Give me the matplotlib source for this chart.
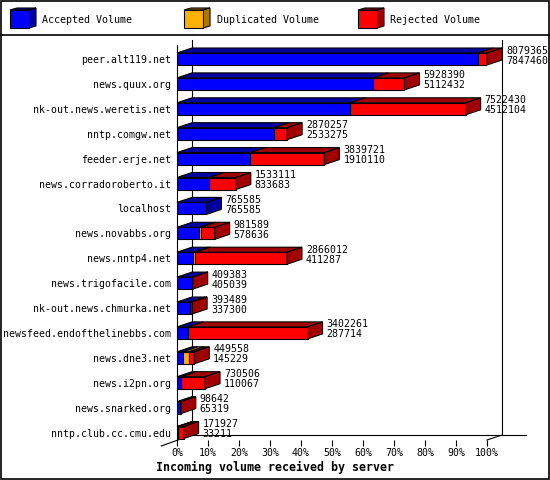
import matplotlib
matplotlib.use("Agg")
import matplotlib.pyplot as plt
from matplotlib.patches import Polygon, Rectangle
from matplotlib.lines import Line2D

servers = ["peer.alt119.net", "news.quux.org", "nk-out.news.weretis.net", "nntp.comgw.net",
           "feeder.erje.net", "news.corradoroberto.it", "localhost", "news.novabbs.org",
           "news.nntp4.net", "news.trigofacile.com", "nk-out.news.chmurka.net",
           "newsfeed.endofthelinebbs.com", "news.dne3.net", "news.i2pn.org",
           "news.snarked.org", "nntp.club.cc.cmu.edu"]
total = [8079365, 5928390, 7522430, 2870257, 3839721, 1533111, 765585, 981589,
         2866012, 409383, 393489, 3402261, 449558, 730506, 98642, 171927]
accepted = [7847460, 5112432, 4512104, 2533275, 1910110, 833683, 765585, 578636,
            411287, 405039, 337300, 287714, 145229, 110067, 65319, 33211]
duplicated = [0, 0, 0, 0, 0, 0, 0, 40000, 60000, 0, 0, 0, 170000, 0, 0, 0]
rejected = [t - a - d for t, a, d in zip(total, accepted, duplicated)]
ticks = list(range(0, 101, 10))

FRONT = {"acc": "#0000ff", "dup": "#ffb000", "rej": "#ff0000"}
DARK = {"acc": "#0000a0", "dup": "#a87800", "rej": "#a00000"}
FONT = "DejaVu Sans Mono"
plt.rcParams.update({"font.family": FONT, "font.size": 7.1})

W, H = 550, 480
fig = plt.figure(figsize=(W / 100, H / 100), dpi=100)
# plot area in pixels: x 177..487, y 45..440
ax = fig.add_axes([177 / W, 1 - 440 / H, 310 / W, 395 / H])
pitch = 24.9
ytop, ybot = (45 - 59) / pitch, (440 - 59) / pitch
ax.set_xlim(0, 100)
ax.set_ylim(ybot, ytop)
dx = 15 / 310 * 100
dy = 5 / pitch
h = 12 / pitch

# back wall and floor
kw = dict(color="black", lw=0.8, clip_on=False, zorder=1)
ax.add_line(Line2D([dx, dx], [ytop - dy, ybot - dy], **kw))
ax.add_line(Line2D([100 + dx, 100 + dx], [ytop - dy, ybot - dy], **kw))
ax.add_line(Line2D([dx, 112.6], [ybot - dy, ybot - dy], **kw))
ax.add_line(Line2D([100, 100 + dx], [ybot, ybot - dy], **kw))
ax.add_line(Line2D([-dx * 1.05, dx], [ybot + dy * 1.2, ybot - dy], **kw))

mx = max(total)
for i in range(len(servers)):
    segs = [("acc", accepted[i]), ("dup", duplicated[i]), ("rej", rejected[i])]
    segs = [(k, v / mx * 100) for k, v in segs if v > 0]
    left = 0
    top, bot = i - h / 2, i + h / 2
    for j, (k, w) in enumerate(segs):
        ax.barh(i, w, left=left, height=h, color=FRONT[k], edgecolor="black", lw=0.8, zorder=3)
        x0, x1 = left, left + w
        ax.add_patch(Polygon([(x0, top), (x1, top), (x1 + dx, top - dy), (x0 + dx, top - dy)],
                             closed=True, fc=DARK[k], ec="black", lw=0.8, zorder=3, clip_on=False))
        if j == len(segs) - 1:
            ax.add_patch(Polygon([(x1, top), (x1 + dx, top - dy), (x1 + dx, bot - dy), (x1, bot)],
                                 closed=True, fc=DARK[k], ec="black", lw=0.8, zorder=3, clip_on=False))
        left = x1
    xe = total[i] / mx * 100 + dx
    ax.annotate(str(total[i]), (xe, i), xytext=(4, 8.5), textcoords="offset pixels",
                ha="left", va="center", annotation_clip=False, zorder=5)
    ax.annotate(str(accepted[i]), (xe, i), xytext=(4, -1.5), textcoords="offset pixels",
                ha="left", va="center", annotation_clip=False, zorder=5)

ax.set_yticks(range(len(servers)))
ax.set_yticklabels(servers)
ax.tick_params(axis="y", length=0, pad=4.5)
ax.set_xticks(ticks)
ax.set_xticklabels([f"{t}%" for t in ticks])
ax.tick_params(axis="x", length=4, width=0.8, direction="out", pad=2)
for s in ("top", "right", "bottom"):
    ax.spines[s].set_visible(False)
ax.spines["left"].set_linewidth(0.8)
ax.spines["left"].set_zorder(4)
ax.patch.set_alpha(0)

# frame + legend in pixel coordinates
ov = fig.add_axes([0, 0, 1, 1], zorder=-1)
ov.set_xlim(0, W); ov.set_ylim(H, 0); ov.axis("off")
ov.add_patch(Rectangle((0.5, 0.5), W - 1.5, H - 1.5, fill=False, ec="black", lw=1.2))
ov.add_line(Line2D([0, W], [35, 35], color="black", lw=1.2))
legend = [("Accepted Volume", "acc", 10, 42), ("Duplicated Volume", "dup", 184, 217),
          ("Rejected Volume", "rej", 358, 390)]
for name, k, bx, tx in legend:
    ov.add_patch(Polygon([(bx, 10), (bx + 19, 10), (bx + 26, 8), (bx + 7, 8)], closed=True,
                         fc=DARK[k], ec="black", lw=0.8))
    ov.add_patch(Polygon([(bx + 19, 10), (bx + 26, 8), (bx + 26, 26), (bx + 19, 28)], closed=True,
                         fc=DARK[k], ec="black", lw=0.8))
    ov.add_patch(Rectangle((bx, 10), 19, 18, fc=FRONT[k], ec="black", lw=0.8))
    ov.text(tx, 20, name, ha="left", va="center", fontsize=7.2)

fig.text(0.5, 1 - 467 / H, "Incoming volume received by server", ha="center", va="center",
         fontsize=8.4, weight="bold")
fig.savefig("out.png", dpi=100)
